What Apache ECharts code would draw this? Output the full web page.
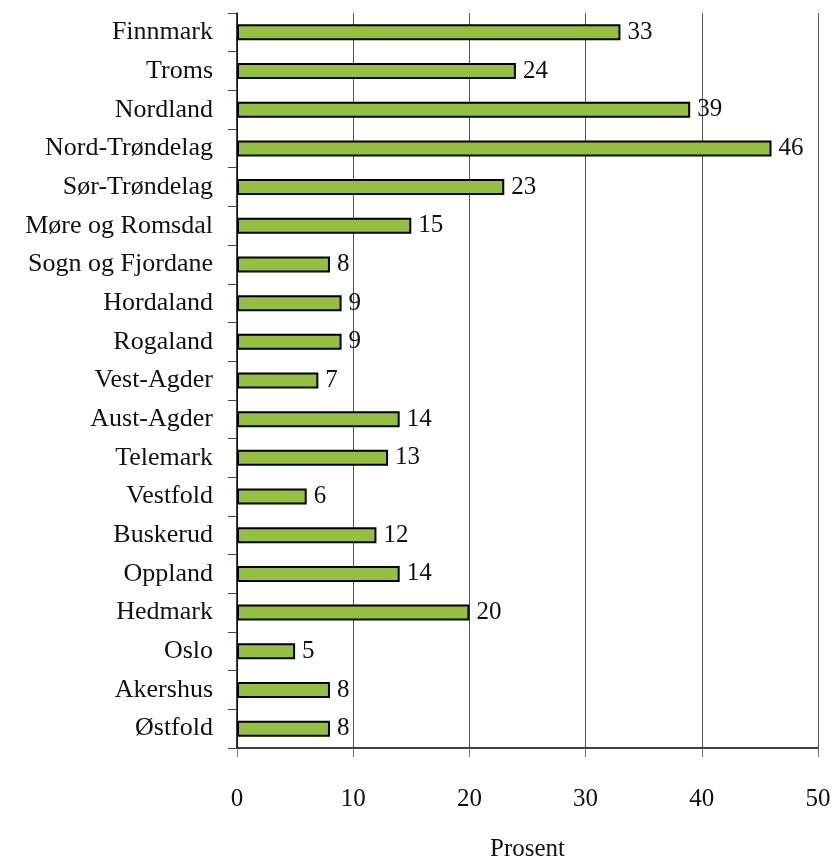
<!DOCTYPE html>
<html>
<head>
<meta charset="utf-8">
<script src="https://cdn.jsdelivr.net/npm/echarts@6/dist/echarts.min.js"></script>
<style>
  html, body { margin: 0; padding: 0; background: #fff; }
  #chart { width: 835px; height: 861px; }
</style>
</head>
<body>
<div id="chart"></div>
<script>
// fylker, nederst først (kategoriakse tegnes nedenfra)
const fylker = [
  'Østfold', 'Akershus', 'Oslo', 'Hedmark', 'Oppland', 'Buskerud', 'Vestfold',
  'Telemark', 'Aust-Agder', 'Vest-Agder', 'Rogaland', 'Hordaland',
  'Sogn og Fjordane', 'Møre og Romsdal', 'Sør-Trøndelag', 'Nord-Trøndelag',
  'Nordland', 'Troms', 'Finnmark'
]
const prosent = [8, 8, 5, 20, 14, 12, 6, 13, 14, 7, 9, 9, 8, 15, 23, 46, 39, 24, 33]
const xTicks = [0, 10, 20, 30, 40, 50]

const fontFamily = '"Liberation Serif", "Times New Roman", serif'
const chart = echarts.init(document.getElementById('chart'))

const option = {
  backgroundColor: '#fff',
  animation: false,
  textStyle: { fontFamily: fontFamily, color: '#111' },
  grid: {
    left: 237,
    right: 17,
    top: 13,
    bottom: 113,
    outerBoundsMode: 'none',
  },
  xAxis: {
    type: 'value',
    min: xTicks[0],
    max: xTicks[xTicks.length - 1],
    interval: 10,
    name: 'Prosent',
    nameLocation: 'middle',
    nameGap: 89,
    nameTextStyle: { fontFamily: fontFamily, fontSize: 25, color: '#111' },
    axisLine: { show: true, lineStyle: { color: '#000', width: 1.5 } },
    axisTick: { show: true, length: 9, lineStyle: { color: '#777' } },
    axisLabel: { fontFamily: fontFamily, fontSize: 25, color: '#111', margin: 39 },
    splitLine: { show: true, lineStyle: { color: '#555', width: 1 } },
  },
  yAxis: {
    type: 'category',
    data: fylker,
    axisLine: { show: true, lineStyle: { color: '#000', width: 1.5 } },
    axisTick: { show: true, length: 9, lineStyle: { color: '#444' } },
    axisLabel: { fontFamily: fontFamily, fontSize: 26, color: '#111', margin: 24 },
  },
  series: [
    {
      type: 'bar',
      data: prosent,
      barWidth: 16,
      itemStyle: {
        color: '#93c13d',
        borderColor: '#000',
        borderWidth: 2,
      },
      label: {
        show: true,
        position: 'right',
        distance: 7,
        fontFamily: fontFamily,
        fontSize: 25,
        color: '#111',
      },
    },
  ],
}

chart.setOption(option)
</script>
</body>
</html>
